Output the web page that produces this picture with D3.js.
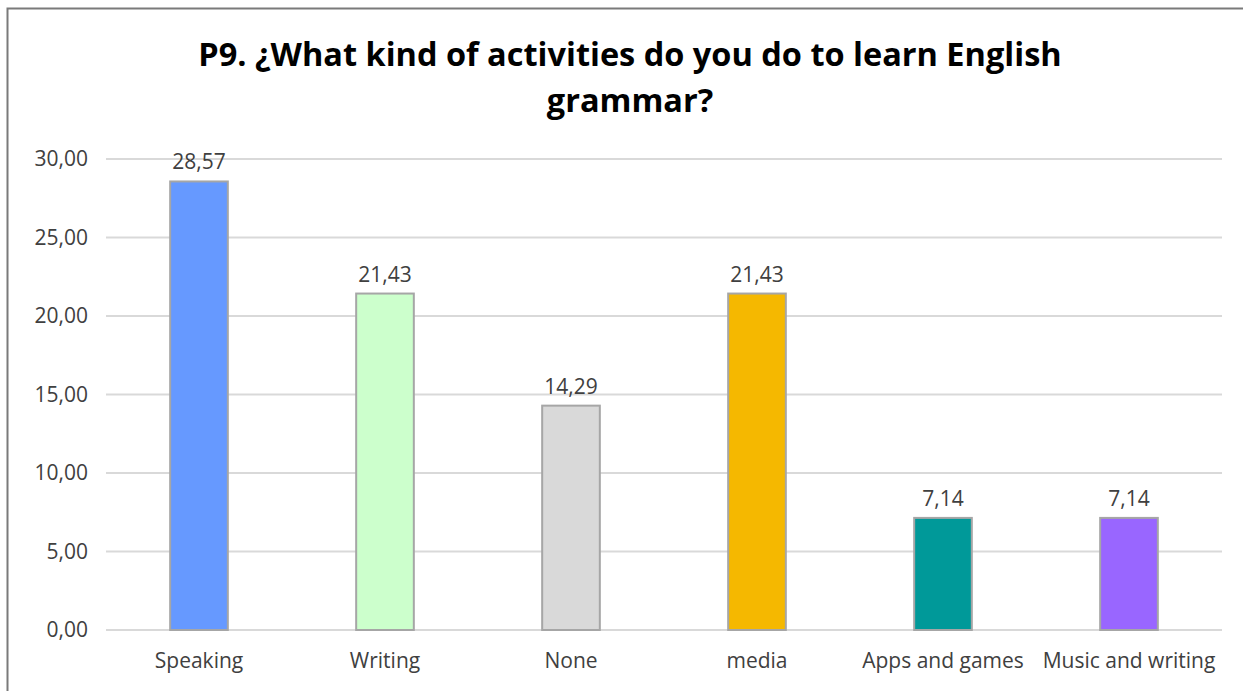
<!DOCTYPE html>
<html>
<head>
<meta charset="utf-8">
<script src="https://cdn.jsdelivr.net/npm/d3@7"></script>
<style>
  body { margin: 0; background: #fff; }
  text { font-family: "Open Sans", "Noto Sans", sans-serif; }
</style>
</head>
<body>
<svg id="chart" width="1243" height="691"></svg>
<script>
const categories = ["Speaking", "Writing", "None", "media", "Apps and games", "Music and writing"];
const values = [28.57, 21.43, 14.29, 21.43, 7.14, 7.14];
const colors = ["#6699ff", "#ccffcc", "#d9d9d9", "#f5b800", "#009999", "#9966ff"];
const yTicks = [0, 5, 10, 15, 20, 25, 30];
const titleLines = ["P9. ¿What kind of activities do you do to learn English", "grammar?"];

const svg = d3.select("#chart");
const margin = { top: 159, right: 21, bottom: 61, left: 106 };
const width = 1243 - margin.left - margin.right;
const height = 691 - margin.top - margin.bottom;

const fmt = v => v.toFixed(2).replace(".", ",");

// chart frame
svg.append("rect")
    .attr("x", 7.5).attr("y", 8.5)
    .attr("width", 1250).attr("height", 700)
    .attr("fill", "#fff")
    .attr("stroke", "#7a7a7a")
    .attr("stroke-width", 2);

// title
svg.append("text")
    .attr("x", 630).attr("y", 66)
    .attr("text-anchor", "middle")
    .attr("font-size", 32.5)
    .attr("font-weight", "bold")
    .attr("fill", "#000")
    .selectAll("tspan")
    .data(titleLines)
    .join("tspan")
    .attr("x", 630)
    .attr("dy", (d, i) => i === 0 ? 0 : 46)
    .text(d => d);

const g = svg.append("g").attr("transform", `translate(${margin.left},${margin.top})`);

const x = d3.scaleBand().domain(categories).range([0, width]).paddingInner(0.69).paddingOuter(0.345);
const y = d3.scaleLinear().domain([0, 30]).range([height, 0]);

// gridlines
g.selectAll(".grid")
    .data(yTicks)
    .join("line")
    .attr("x1", 0).attr("x2", width)
    .attr("y1", d => y(d)).attr("y2", d => y(d))
    .attr("stroke", "#d9d9d9")
    .attr("stroke-width", 2);

// y axis
const yAxis = g.append("g")
    .call(d3.axisLeft(y).tickValues(yTicks).tickFormat(fmt).tickSize(0).tickPadding(18));
yAxis.select(".domain").remove();
yAxis.selectAll("text").attr("font-size", 21).attr("fill", "#404040")
    .style("font-family", "'Open Sans', sans-serif");

// x axis
const xAxis = g.append("g")
    .attr("transform", `translate(0,${height})`)
    .call(d3.axisBottom(x).tickSize(0).tickPadding(23));
xAxis.select(".domain").remove();
xAxis.selectAll("text").attr("font-size", 21).attr("fill", "#404040")
    .style("font-family", "'Open Sans', sans-serif");

// bars
g.selectAll(".bar")
    .data(values)
    .join("rect")
    .attr("x", (d, i) => x(categories[i]))
    .attr("y", d => y(d))
    .attr("width", x.bandwidth())
    .attr("height", d => y(0) - y(d))
    .attr("fill", (d, i) => colors[i])
    .attr("stroke", "#a6a6a6")
    .attr("stroke-width", 2);

// data labels
g.selectAll(".label")
    .data(values)
    .join("text")
    .attr("x", (d, i) => x(categories[i]) + x.bandwidth() / 2)
    .attr("y", d => y(d) - 12)
    .attr("text-anchor", "middle")
    .attr("font-size", 21)
    .attr("fill", "#404040")
    .text(fmt);
</script>
</body>
</html>
